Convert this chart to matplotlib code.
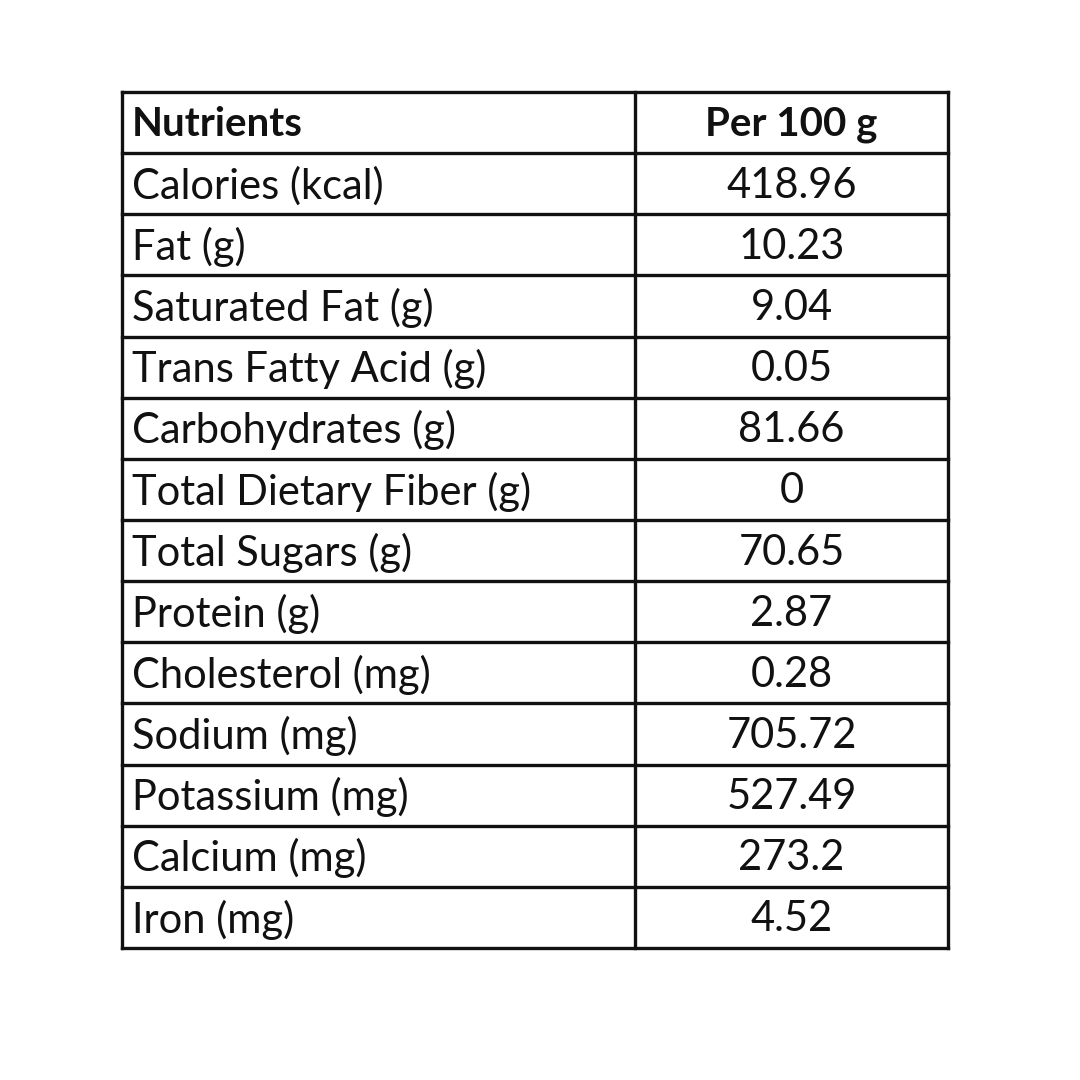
import matplotlib.pyplot as plt

nutrients = ["Calories (kcal)", "Fat (g)", "Saturated Fat (g)", "Trans Fatty Acid (g)",
             "Carbohydrates (g)", "Total Dietary Fiber (g)", "Total Sugars (g)",
             "Protein (g)", "Cholesterol (mg)", "Sodium (mg)", "Potassium (mg)",
             "Calcium (mg)", "Iron (mg)"]
per_100g = ["418.96", "10.23", "9.04", "0.05", "81.66", "0", "70.65",
            "2.87", "0.28", "705.72", "527.49", "273.2", "4.52"]

plt.rcParams['font.family'] = ['Lato', 'DejaVu Sans']

fig = plt.figure(figsize=(10.8, 10.8), dpi=100)
ax = fig.add_axes([0, 0, 1, 1])
ax.set_xlim(0, 1080)
ax.set_ylim(1080, 0)
ax.axis('off')

left, mid, right = 122, 635, 948
top, bottom = 92, 948
n = len(nutrients) + 1
h = (bottom - top) / n
lw = 2.4

for i in range(n + 1):
    ax.plot([left, right], [top + i * h] * 2, color='#111', lw=lw, solid_capstyle='projecting')
for x in (left, mid, right):
    ax.plot([x, x], [top, bottom], color='#111', lw=lw, solid_capstyle='projecting')

fs = 30
ax.text(left + 10, top + h / 2 + 2, "Nutrients", fontsize=fs - 1, fontweight='bold',
        va='center', color='#111')
ax.text((mid + right) / 2, top + h / 2 + 2, "Per 100 g", fontsize=fs - 1, fontweight='bold',
        va='center', ha='center', color='#111')
for i, (name, val) in enumerate(zip(nutrients, per_100g)):
    y = top + (i + 1.5) * h + 2
    ax.text(left + 10, y, name, fontsize=fs, va='center', color='#111')
    ax.text((mid + right) / 2, y, val, fontsize=fs, va='center', ha='center', color='#111')

fig.savefig("out.png", dpi=100, facecolor='white')
